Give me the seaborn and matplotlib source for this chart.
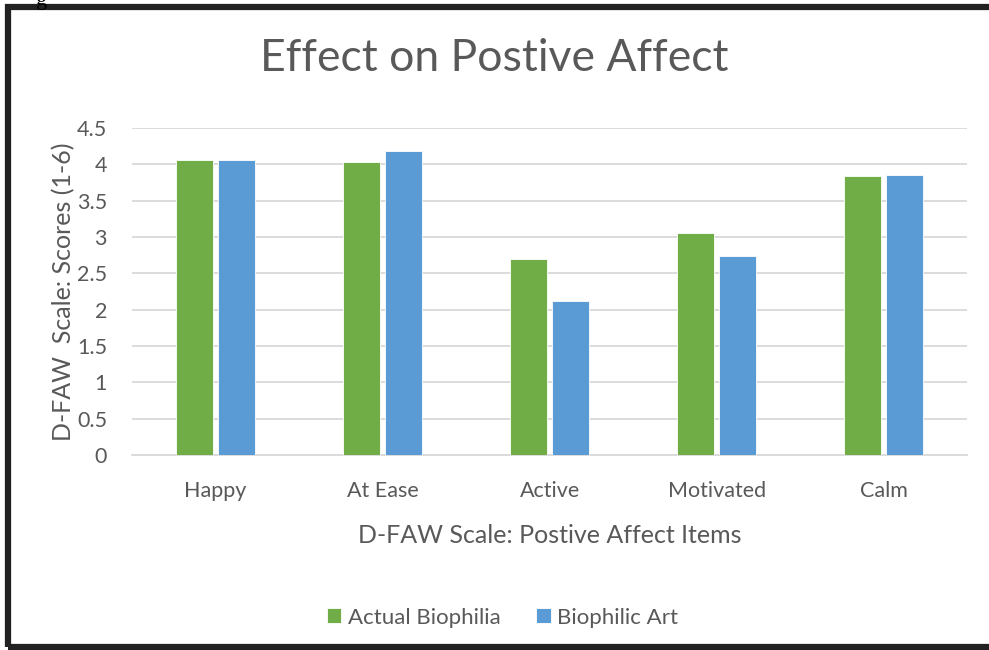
import pandas as pd
import seaborn as sns
import matplotlib.pyplot as plt
from matplotlib.patches import Rectangle

categories = ["Happy", "At Ease", "Active", "Motivated", "Calm"]
actual_biophilia = [4.06, 4.03, 2.70, 3.06, 3.84]
biophilic_art = [4.06, 4.18, 2.12, 2.74, 3.86]
series_names = ["Actual Biophilia", "Biophilic Art"]
yticks = [0, 0.5, 1, 1.5, 2, 2.5, 3, 3.5, 4, 4.5]
ytick_labels = ["0", "0.5", "1", "1.5", "2", "2.5", "3", "3.5", "4", "4.5"]

GREEN = "#70AD47"
BLUE = "#5B9BD5"
TEXT = "#595959"


def main():
    df = pd.DataFrame({
        "item": categories * 2,
        "score": actual_biophilia + biophilic_art,
        "series": [series_names[0]] * 5 + [series_names[1]] * 5,
    })

    sns.set_theme(style="white")
    plt.rcParams["font.family"] = ["Lato", "DejaVu Sans"]

    fig = plt.figure(figsize=(9.89, 6.5), dpi=100)
    ax = fig.add_axes([0.1335, 0.30, 0.8445, 0.503])

    sns.barplot(data=df, x="item", y="score", hue="series", order=categories,
                hue_order=series_names, palette=[GREEN, BLUE], saturation=1,
                width=0.503, gap=0.12, edgecolor="white", linewidth=0.6,
                ax=ax, zorder=3)

    ax.set_ylim(0, 4.5)
    ax.set_xlim(-0.5, 4.5)
    ax.set_yticks(yticks)
    ax.set_yticklabels(ytick_labels)
    ax.yaxis.grid(True, color="#D9D9D9", linewidth=1.3, zorder=0)
    ax.xaxis.grid(False)
    for s in ["top", "right", "left"]:
        ax.spines[s].set_visible(False)
    ax.spines["bottom"].set_color("#D9D9D9")
    ax.spines["bottom"].set_linewidth(1.3)
    ax.tick_params(axis="both", length=0, labelsize=15.5, colors=TEXT)
    ax.tick_params(axis="x", pad=19)
    ax.tick_params(axis="y", pad=18)

    ax.set_xlabel("D-FAW Scale: Postive Affect Items", fontsize=18,
                  color=TEXT, labelpad=16)
    ax.set_ylabel("D-FAW  Scale: Scores (1-6)", fontsize=18,
                  color=TEXT, labelpad=1)

    fig.text(0.5, 0.91, "Effect on Postive Affect", ha="center", va="center",
             fontsize=32, color=TEXT)

    handles, labels = ax.get_legend_handles_labels()
    ax.legend_.remove()
    fig.legend(handles, labels, loc="center", bbox_to_anchor=(0.508, 0.05),
               ncol=2, frameon=False, fontsize=16, labelcolor=TEXT,
               handlelength=0.65, handleheight=0.65, handletextpad=0.3,
               columnspacing=1.6)

    # frame around the chart, cut off on the right side
    fig.patches.append(Rectangle((8 / 989, 3 / 650), 1.2, 640 / 650,
                                 transform=fig.transFigure, fill=False,
                                 edgecolor="#222222", linewidth=4.5))
    fig.text(36 / 989, 1.0, "g", ha="left", va="center", fontsize=16,
             color="black", family="Liberation Serif")

    fig.savefig("out.png", dpi=100)
    plt.close(fig)


if __name__ == "__main__":
    main()
